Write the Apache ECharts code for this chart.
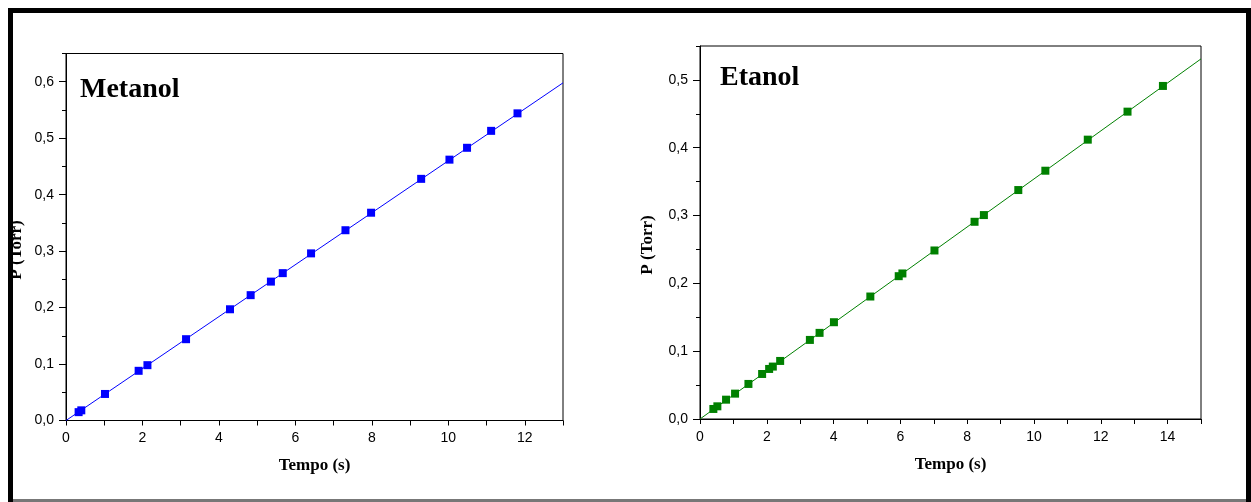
<!DOCTYPE html>
<html>
<head>
  <meta charset="UTF-8">
  <title>Metanol / Etanol</title>
  <script src="https://cdn.jsdelivr.net/npm/echarts@6/dist/echarts.min.js"></script>
  <style>
    body { margin: 0; background: #fff; }
    #main { width: 1251px; height: 502px; }
  </style>
</head>
<body>
  <div id="main"></div>
  <script>
    // Metanol: pontos medidos
    var metanolTempo = [0.33, 0.40, 1.02, 1.90, 2.13, 3.14, 4.29, 4.83, 5.36, 5.67, 6.41, 7.31, 7.98, 9.29, 10.03, 10.49, 11.12, 11.81];
    var metanolP = [0.0148, 0.018, 0.047, 0.088, 0.098, 0.144, 0.197, 0.222, 0.246, 0.261, 0.296, 0.337, 0.368, 0.428, 0.462, 0.483, 0.513, 0.544];
    // reta ajustada
    var metanolRetaT = [0, 13];
    var metanolRetaP = [0, 0.598];

    // Etanol: pontos medidos
    var etanolTempo = [0.40, 0.52, 0.78, 1.05, 1.45, 1.86, 2.07, 2.18, 2.40, 3.29, 3.58, 4.01, 5.10, 5.95, 6.06, 7.02, 8.22, 8.50, 9.53, 10.34, 11.61, 12.80, 13.86];
    var etanolP = [0.0148, 0.0187, 0.0285, 0.0374, 0.0517, 0.0664, 0.0738, 0.0773, 0.0856, 0.1166, 0.127, 0.1427, 0.1806, 0.2106, 0.2146, 0.2485, 0.2908, 0.3007, 0.3376, 0.3661, 0.4119, 0.4532, 0.4911];
    var etanolRetaT = [0, 15];
    var etanolRetaP = [0, 0.531];

    function pares(xs, ys) {
      return xs.map(function (x, i) { return [x, ys[i]]; });
    }

    var tickFont = { color: '#000', fontFamily: 'Liberation Sans', fontSize: 14 };
    var nameFont = { color: '#000', fontFamily: 'Liberation Serif', fontWeight: 'bold', fontSize: 17 };
    var titleFont = { fontFamily: 'Liberation Serif', fontWeight: 'bold', fontSize: 28, color: '#000' };

    function eixoX(grid, max) {
      return {
        type: 'value', gridIndex: grid, min: 0, max: max, interval: 1,
        name: 'Tempo (s)', nameLocation: 'middle', nameGap: 37, nameTextStyle: nameFont,
        axisLine: { lineStyle: { color: '#000', width: 1 } },
        axisTick: { length: 5, lineStyle: { color: '#000' } },
        axisLabel: Object.assign({ margin: 11, formatter: function (v) { return v % 2 === 0 ? String(v) : ''; } }, tickFont),
        splitLine: { show: false }
      };
    }

    function eixoY(grid, max) {
      return {
        type: 'value', gridIndex: grid, position: 'left', min: 0, max: max, interval: 0.1,
        axisLine: { lineStyle: { color: '#000', width: 1 } },
        axisTick: { length: 7, lineStyle: { color: '#000' } },
        axisLabel: Object.assign({
          margin: 12, showMaxLabel: false,
          formatter: function (v) { return v.toFixed(1).replace('.', ','); }
        }, tickFont),
        splitLine: { show: false }
      };
    }

    // eixo auxiliar so para os ticks menores (0,05)
    function eixoYMenor(grid, max) {
      return {
        type: 'value', gridIndex: grid, position: 'left', offset: 0, min: 0, max: max, interval: 0.05,
        axisLine: { show: false },
        axisTick: { length: 4, lineStyle: { color: '#000' } },
        axisLabel: { show: false },
        splitLine: { show: false }
      };
    }

    var myChart = echarts.init(document.getElementById('main'));
    var option = {
      animation: false,
      backgroundColor: '#fff',
      title: [
        { text: 'Metanol', left: 80, top: 76, padding: 0, textStyle: titleFont },
        { text: 'Etanol', left: 720, top: 64, padding: 0, textStyle: titleFont }
      ],
      grid: [
        { left: 66, right: 688, top: 53.5, bottom: 81.5, show: true, borderColor: '#000', borderWidth: 1 },
        { left: 700, right: 50, top: 46, bottom: 83, show: true, borderColor: '#000', borderWidth: 1 }
      ],
      xAxis: [eixoX(0, 13), eixoX(1, 15)],
      yAxis: [eixoY(0, 0.65), eixoYMenor(0, 0.65), eixoY(1, 0.55), eixoYMenor(1, 0.55)],
      series: [
        {
          type: 'line', xAxisIndex: 0, yAxisIndex: 0, data: pares(metanolRetaT, metanolRetaP),
          showSymbol: false, silent: true, lineStyle: { color: '#0000ff', width: 1 }
        },
        {
          type: 'scatter', xAxisIndex: 0, yAxisIndex: 0, data: pares(metanolTempo, metanolP),
          symbol: 'rect', symbolSize: 8, itemStyle: { color: '#0000ff', opacity: 1 }
        },
        {
          type: 'line', xAxisIndex: 1, yAxisIndex: 2, data: pares(etanolRetaT, etanolRetaP),
          showSymbol: false, silent: true, lineStyle: { color: '#008000', width: 1 }
        },
        {
          type: 'scatter', xAxisIndex: 1, yAxisIndex: 2, data: pares(etanolTempo, etanolP),
          symbol: 'rect', symbolSize: 8, itemStyle: { color: '#008000', opacity: 1 }
        }
      ],
      graphic: [
        // rotulos do eixo Y
        {
          type: 'text', x: 17, y: 250, rotation: Math.PI / 2, z: 1,
          style: { text: 'P (Torr)', font: 'bold 17px "Liberation Serif"', fill: '#000', align: 'center', verticalAlign: 'middle' }
        },
        {
          type: 'text', x: 648, y: 245, rotation: Math.PI / 2, z: 1,
          style: { text: 'P (Torr)', font: 'bold 17px "Liberation Serif"', fill: '#000', align: 'center', verticalAlign: 'middle' }
        },
        // moldura
        { type: 'rect', z: 10, shape: { x: 8, y: 8, width: 1243, height: 5 }, style: { fill: '#000' } },
        { type: 'rect', z: 10, shape: { x: 8, y: 8, width: 5, height: 494 }, style: { fill: '#000' } },
        { type: 'rect', z: 10, shape: { x: 1246, y: 8, width: 5, height: 494 }, style: { fill: '#000' } },
        { type: 'rect', z: 10, shape: { x: 13, y: 499, width: 1233, height: 3 }, style: { fill: '#777' } }
      ]
    };
    myChart.setOption(option);
  </script>
</body>
</html>
